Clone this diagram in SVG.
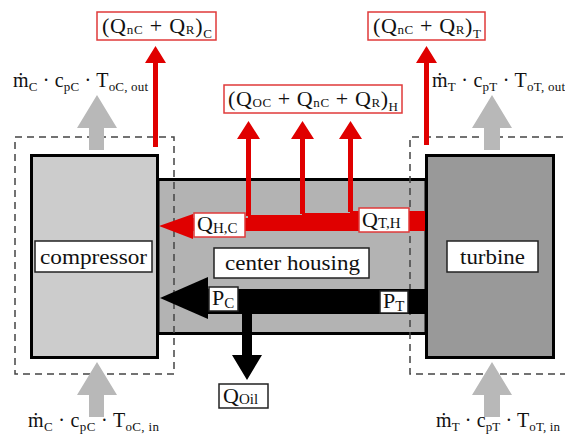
<svg xmlns="http://www.w3.org/2000/svg" width="565" height="439" viewBox="0 0 565 439">
<style>
text{font-family:"Liberation Serif","DejaVu Serif",serif;fill:#111}
.m{font-size:20px}
.s{font-size:13px}
.s2{font-size:15px}
.lb{font-size:22px}
.bx{font-size:21px}
.rb{fill:#fff;stroke:#e03a3a;stroke-width:1.5}
.kb{fill:#fff;stroke:#222;stroke-width:1.5}
.red{fill:#e00000}
.gry{fill:#b8b8b8}
.blk{fill:#000}
.dash{fill:none;stroke:#444;stroke-width:1.5;stroke-dasharray:7 5}
</style>
<rect width="565" height="439" fill="#fff"/>
<g id="center-housing">
<rect x="158" y="179.5" width="268" height="154" fill="#b3b3b3" stroke="#000" stroke-width="3"/>
<rect x="214" y="248" width="155" height="30" class="kb"/>
<text x="225" y="270" class="bx" textLength="135" lengthAdjust="spacingAndGlyphs">center housing</text>
</g>
<g id="compressor">
<rect x="31.5" y="155.5" width="126" height="202" fill="#cccccc" stroke="#000" stroke-width="3"/>
<rect x="35" y="241" width="117" height="31" class="kb"/>
<text x="40" y="264" class="bx" textLength="107" lengthAdjust="spacingAndGlyphs">compressor</text>
</g>
<g id="turbine">
<rect x="426.5" y="155.5" width="127" height="202" fill="#999999" stroke="#000" stroke-width="3"/>
<rect x="447" y="241" width="91" height="31" class="kb"/>
<text x="460" y="264" class="bx" textLength="65" lengthAdjust="spacingAndGlyphs">turbine</text>
</g>
<g id="boundaries">
<rect x="15" y="137" width="159" height="237" class="dash"/>
<path d="M575 137H410V374H575" class="dash"/>
</g>
<g id="connectors">
<polygon class="gry" points="89,150 89,128 77,128 97,95 117,128 104,128 104,150"/>
<polygon class="gry" points="484,150 484,128 472,128 492,95 512,128 500,128 500,150"/>
<polygon class="gry" points="89,417 89,395 77,395 97,362 117,395 104,395 104,417"/>
<polygon class="gry" points="484,417 484,395 472,395 492,362 512,395 500,395 500,417"/>
<polygon class="red" points="153,147 153,63 145,63 155.5,46 166,63 158,63 158,147"/>
<polygon class="red" points="424,145 424,63 416,63 426.5,46 437,63 429,63 429,145"/>
<polygon class="red" points="246,216 246,139 237,139 248.5,121 260,139 251,139 251,216"/>
<polygon class="red" points="300,214 300,139 291,139 302.5,121 314,139 305,139 305,214"/>
<polygon class="red" points="348,212 348,139 339,139 350.5,121 362,139 353,139 353,212"/>
<rect class="red" x="350" y="211" width="75" height="20"/>
<rect class="red" x="302" y="213" width="50" height="18"/>
<rect class="red" x="248" y="215" width="56" height="16"/>
<rect class="red" x="190" y="218" width="60" height="13"/>
<polygon class="red" points="159,226 193,214 193,239"/>
<rect class="blk" x="206" y="289" width="219" height="25"/>
<polygon class="blk" points="160,298 208,277 208,319"/>
<polygon class="blk" points="242,312 242,355 232,355 247,380 262,355 252,355 252,312"/>
</g>
<g id="labels">
<text x="13" y="87" class="m" textLength="135">ṁ<tspan class="s" dy="4">C</tspan><tspan dy="-4"> · c</tspan><tspan class="s" dy="4">pC</tspan><tspan dy="-4"> · T</tspan><tspan class="s" dy="4">oC, out</tspan></text>
<text x="432" y="87" class="m" textLength="133">ṁ<tspan class="s" dy="4">T</tspan><tspan dy="-4"> · c</tspan><tspan class="s" dy="4">pT</tspan><tspan dy="-4"> · T</tspan><tspan class="s" dy="4">oT, out</tspan></text>
<text x="28" y="427" class="m" textLength="131">ṁ<tspan class="s" dy="4">C</tspan><tspan dy="-4"> · c</tspan><tspan class="s" dy="4">pC</tspan><tspan dy="-4"> · T</tspan><tspan class="s" dy="4">oC, in</tspan></text>
<text x="436" y="427" class="m" textLength="124">ṁ<tspan class="s" dy="4">T</tspan><tspan dy="-4"> · c</tspan><tspan class="s" dy="4">pT</tspan><tspan dy="-4"> · T</tspan><tspan class="s" dy="4">oT, in</tspan></text>
</g>
<g id="heat-C">
<rect x="97" y="12" width="119" height="28" class="rb"/>
<text x="102" y="33" class="lb" textLength="110">(Q<tspan class="s" dy="1">nC</tspan><tspan dy="-1"> + Q</tspan><tspan class="s" dy="1">R</tspan><tspan dy="-1">)</tspan><tspan class="s" dy="5">C</tspan></text>
</g>
<g id="heat-T">
<rect x="368" y="12" width="117" height="28" class="rb"/>
<text x="373" y="33" class="lb" textLength="108">(Q<tspan class="s" dy="1">nC</tspan><tspan dy="-1"> + Q</tspan><tspan class="s" dy="1">R</tspan><tspan dy="-1">)</tspan><tspan class="s" dy="5">T</tspan></text>
</g>
<g id="heat-H">
<rect x="224" y="85" width="178" height="28" class="rb"/>
<text x="228" y="106" class="lb" textLength="170">(Q<tspan class="s" dy="1">OC</tspan><tspan dy="-1"> + Q</tspan><tspan class="s" dy="1">nC</tspan><tspan dy="-1"> + Q</tspan><tspan class="s" dy="1">R</tspan><tspan dy="-1">)</tspan><tspan class="s" dy="5">H</tspan></text>
</g>
<g id="QHC">
<rect x="194" y="213" width="51" height="24" class="rb"/>
<text x="197" y="231" class="lb">Q<tspan class="s2" dy="2">H,C</tspan></text>
</g>
<g id="QTH">
<rect x="359" y="208" width="50" height="24" class="rb"/>
<text x="362" y="227" class="lb">Q<tspan class="s2" dy="1">T,H</tspan></text>
</g>
<g id="PC">
<rect x="209" y="287" width="29" height="24" class="kb"/>
<text x="212" y="305" class="lb">P<tspan class="s2" dy="3">C</tspan></text>
</g>
<g id="PT">
<rect x="380" y="291" width="28" height="22" class="kb"/>
<text x="383" y="308" class="lb">P<tspan class="s2" dy="3">T</tspan></text>
</g>
<g id="QOil">
<rect x="219" y="384" width="49" height="24" class="kb"/>
<text x="223" y="403" class="lb">Q<tspan class="s2" dy="1">Oil</tspan></text>
</g>
</svg>
